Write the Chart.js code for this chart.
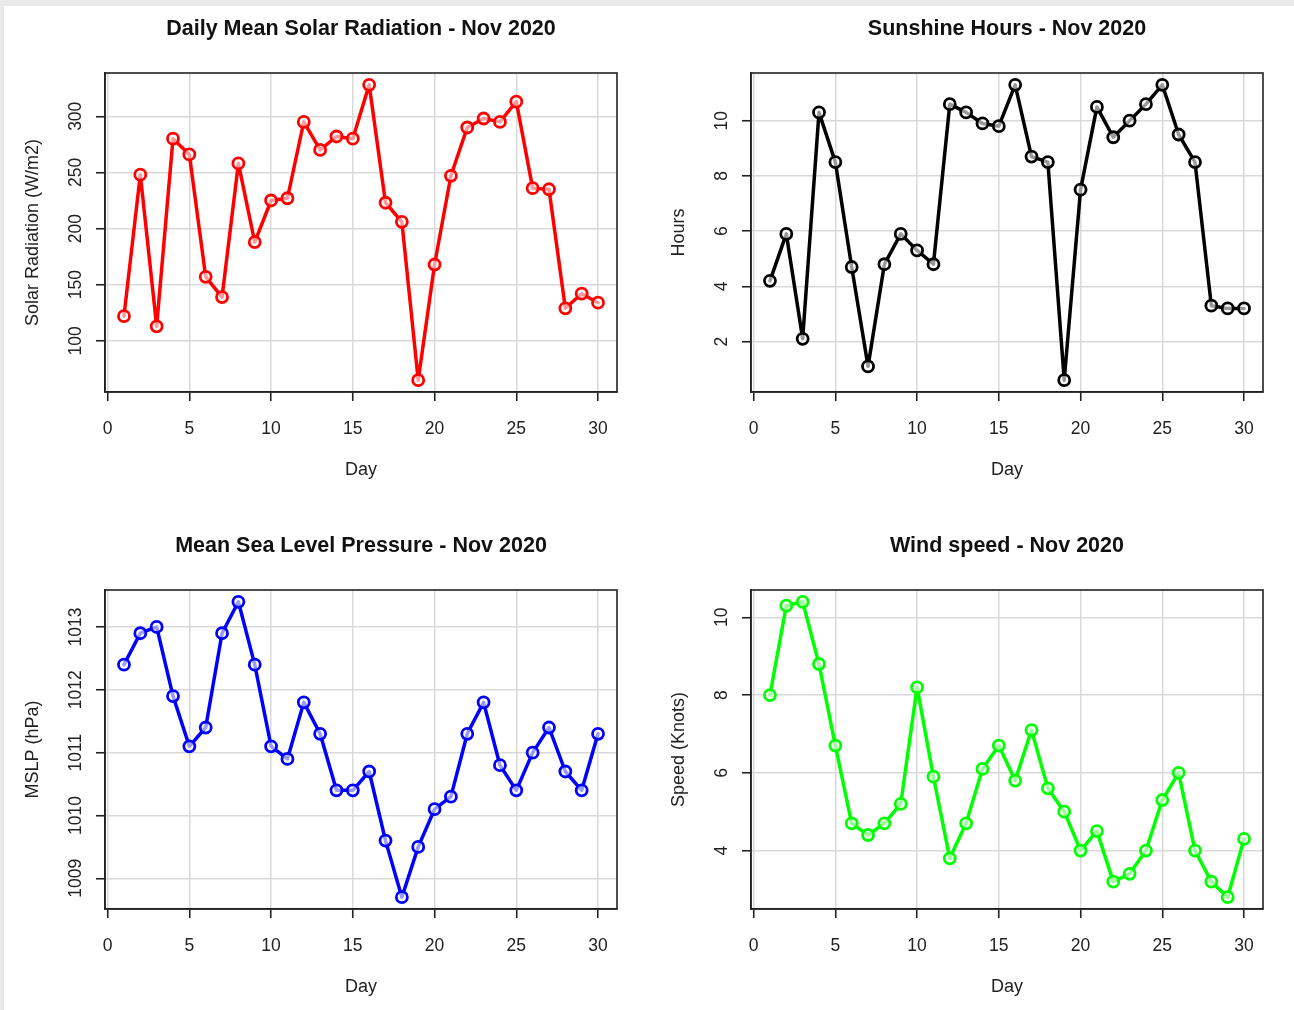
<!DOCTYPE html>
<html>
<head>
<meta charset="utf-8">
<title>Weather - Nov 2020</title>
<script src="https://cdn.jsdelivr.net/npm/chart.js@4.4.0/dist/chart.umd.min.js"></script>
<style>
  html, body { margin: 0; padding: 0; }
  body { width: 1294px; height: 1010px; background: #e9e9e9; position: relative; overflow: hidden; }
  #sheet { position: absolute; left: 4px; top: 6px; right: 0; bottom: 0; background: #fff; }
  .panel { position: absolute; width: 647px; height: 500px; }
</style>
</head>
<body>
<div id="sheet"></div>
<div class="panel" style="left:0;top:0"><canvas id="solar"></canvas></div>
<div class="panel" style="left:646px;top:0"><canvas id="sunshine"></canvas></div>
<div class="panel" style="left:0;top:517px"><canvas id="pressure"></canvas></div>
<div class="panel" style="left:646px;top:517px"><canvas id="wind"></canvas></div>
<script>
const days = [1, 2, 3, 4, 5, 6, 7, 8, 9, 10, 11, 12, 13, 14, 15, 16, 17, 18, 19, 20, 21, 22, 23, 24, 25, 26, 27, 28, 29, 30];

const solarRad = [122, 248, 113, 280, 266, 157, 139, 258, 188, 225, 227, 295, 270, 282, 280, 328, 223, 206, 65, 168, 247, 290, 298, 295, 313, 236, 235, 129, 142, 134];
const sunHours = [4.2, 5.9, 2.1, 10.3, 8.5, 4.7, 1.1, 4.8, 5.9, 5.3, 4.8, 10.6, 10.3, 9.9, 9.8, 11.3, 8.7, 8.5, 0.6, 7.5, 10.5, 9.4, 10.0, 10.6, 11.3, 9.5, 8.5, 3.3, 3.2, 3.2];
const mslp = [1012.4, 1012.9, 1013.0, 1011.9, 1011.1, 1011.4, 1012.9, 1013.4, 1012.4, 1011.1, 1010.9, 1011.8, 1011.3, 1010.4, 1010.4, 1010.7, 1009.6, 1008.7, 1009.5, 1010.1, 1010.3, 1011.3, 1011.8, 1010.8, 1010.4, 1011.0, 1011.4, 1010.7, 1010.4, 1011.3];
const windSpeed = [8.0, 10.3, 10.4, 8.8, 6.7, 4.7, 4.4, 4.7, 5.2, 8.2, 5.9, 3.8, 4.7, 6.1, 6.7, 5.8, 7.1, 5.6, 5.0, 4.0, 4.5, 3.2, 3.4, 4.0, 5.3, 6.0, 4.0, 3.2, 2.8, 4.3];

const dayTicks = [0, 5, 10, 15, 20, 25, 30];
const solarTicks = [100, 150, 200, 250, 300];
const hourTicks = [2, 4, 6, 8, 10];
const mslpTicks = [1009, 1010, 1011, 1012, 1013];
const windTicks = [4, 6, 8, 10];

const FONT = "'Liberation Sans', Arial, Helvetica, sans-serif";
const INK = "#222";

// R style axis limits: data range stretched by 4% each side
function padRange(values) {
  const lo = Math.min(...values);
  const hi = Math.max(...values);
  const d = (hi - lo) * 0.04;
  return [lo - d, hi + d];
}

// the black frame round the plot region
const boxPlugin = {
  id: "box",
  beforeDatasetsDraw(chart) {
    const { ctx, chartArea } = chart;
    ctx.save();
    ctx.strokeStyle = INK;
    ctx.lineWidth = 1.6;
    ctx.strokeRect(chartArea.left, chartArea.top, chartArea.right - chartArea.left, chartArea.bottom - chartArea.top);
    ctx.restore();
  }
};

function drawPanel(id, title, ytitle, values, yticks, color, labelPad) {
  const ctx = document.getElementById(id).getContext("2d");
  const xr = padRange(days);
  const yr = padRange(values);

  const config = {
    type: "line",
    data: {
      datasets: [{
        data: days.map((d, i) => ({ x: d, y: values[i] })),
        borderColor: color,
        borderWidth: 3.5,
        borderJoinStyle: "round",
        borderCapStyle: "round",
        pointRadius: 5.5,
        pointBorderWidth: 2.8,
        pointBorderColor: color,
        pointBackgroundColor: "rgba(255,255,255,0.6)",
        tension: 0,
        fill: false
      }]
    },
    options: {
      animation: false,
      responsive: true,
      maintainAspectRatio: false,
      layout: { padding: { left: 0, top: 0, right: 30, bottom: 0 } },
      plugins: {
        legend: { display: false },
        tooltip: { enabled: false },
        title: {
          display: true,
          text: title,
          fullSize: false,
          color: "#111",
          font: { family: FONT, size: 21.5, weight: "bold" },
          padding: { top: 16.2, bottom: 31 }
        }
      },
      scales: {
        x: {
          type: "linear",
          min: xr[0],
          max: xr[1],
          afterBuildTicks: (s) => { s.ticks = dayTicks.map(v => ({ value: v })); },
          afterFit: (s) => { s.height = 108; },
          grid: { color: "#d9d9d9", lineWidth: 1.5, tickColor: INK, tickLength: 9, tickWidth: 1.6 },
          border: { display: true, color: INK, width: 1.6 },
          ticks: {
            autoSkip: false, maxRotation: 0, minRotation: 0, padding: 18,
            color: INK, font: { family: FONT, size: 17.5 },
            callback: (v) => String(v)
          },
          title: {
            display: true, text: "Day", color: INK,
            font: { family: FONT, size: 18 },
            padding: { top: 0, bottom: 19 }
          }
        },
        y: {
          type: "linear",
          min: yr[0],
          max: yr[1],
          afterBuildTicks: (s) => { s.ticks = yticks.map(v => ({ value: v })); },
          afterFit: (s) => { s.width = 105; },
          grid: { color: "#d9d9d9", lineWidth: 1.5, tickColor: INK, tickLength: 9, tickWidth: 1.6 },
          border: { display: true, color: INK, width: 1.6 },
          ticks: {
            autoSkip: false, minRotation: 90, maxRotation: 90, crossAlign: "center",
            padding: labelPad, color: INK, font: { family: FONT, size: 17.5 },
            callback: (v) => String(v)
          },
          title: {
            display: true, text: ytitle, color: INK,
            font: { family: FONT, size: 18 },
            padding: { top: 22, bottom: 0 }
          }
        }
      }
    },
    plugins: [boxPlugin]
  };
  return new Chart(ctx, config);
}

drawPanel("solar", "Daily Mean Solar Radiation - Nov 2020", "Solar Radiation (W/m2)", solarRad, solarTicks, "#ff0000", 5.4);
drawPanel("sunshine", "Sunshine Hours - Nov 2020", "Hours", sunHours, hourTicks, "#000000", 10.3);
drawPanel("pressure", "Mean Sea Level Pressure - Nov 2020", "MSLP (hPa)", mslp, mslpTicks, "#0000ff", 0.5);
drawPanel("wind", "Wind speed - Nov 2020", "Speed (Knots)", windSpeed, windTicks, "#00ff00", 10.3);
</script>
</body>
</html>
